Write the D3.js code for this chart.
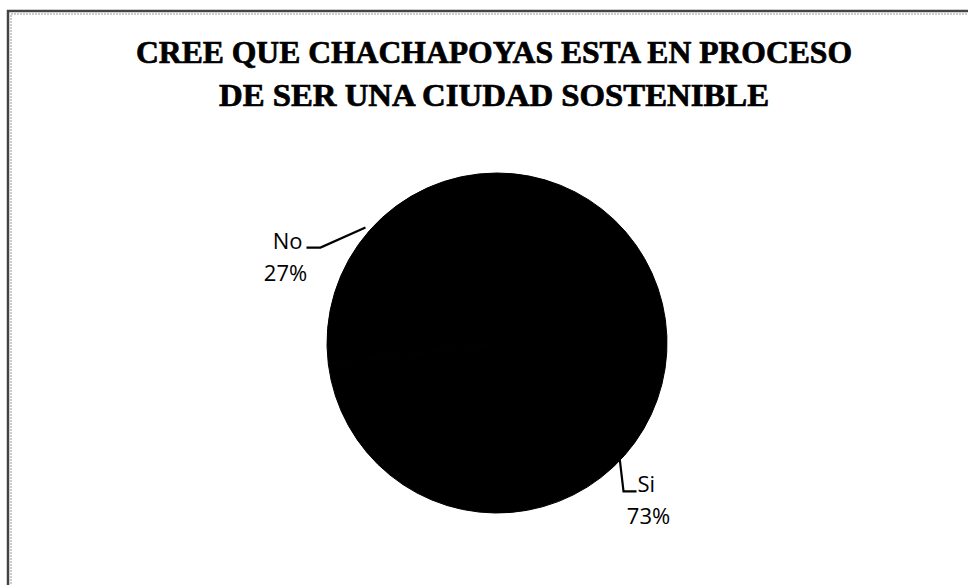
<!DOCTYPE html>
<meta charset="utf-8">
<head>
  <script src="https://d3js.org/d3.v7.min.js"></script>
  <style>
    body { margin: 0; background: #fff; }
    .title { font-family: "Liberation Serif", "DejaVu Serif", serif; font-weight: bold; font-size: 31px; fill: #000; stroke: #000; stroke-width: 0.7; }
    .lbl { font-family: "Open Sans", "Noto Sans", sans-serif; font-size: 22px; fill: #000; }
    .leader { stroke: #000; stroke-width: 2.2; fill: none; }
  </style>
</head>
<body>
<div id="chart"></div>
<script>
  // data
  var categories = ["Si", "No"];
  var values = [73, 27];
  var titleLines = ["CREE QUE CHACHAPOYAS ESTA EN PROCESO", "DE SER UNA CIUDAD SOSTENIBLE"];

  var width = 968, height = 585;
  var cx = 497, cy = 343, radius = 170;

  var svg = d3.select("#chart").append("svg")
          .attr("width", width)
          .attr("height", height);

  // scanned frame
  svg.append("path")
          .attr("d", "M8,590 L8,11 L975,11")
          .attr("stroke", "#444").attr("stroke-width", 2.5).attr("fill", "none");
  svg.append("path")
          .attr("d", "M11,590 L11,14 L975,14")
          .attr("stroke", "#999").attr("stroke-width", 1).attr("fill", "none")
          .attr("stroke-dasharray", "2,1");

  svg.selectAll("text.title").data(titleLines).enter()
          .append("text")
          .attr("class", "title")
          .attr("x", 494)
          .attr("y", function(d, i){ return 63 + i * 43; })
          .attr("text-anchor", "middle")
          .attr("textLength", function(d, i){ return i == 0 ? 716 : 550; })
          .attr("lengthAdjust", "spacingAndGlyphs")
          .text(function(d){ return d; });

  var pie = d3.pie().sort(null).value(function(d){ return d; });
  var arcs = pie(values);
  var arc = d3.arc().innerRadius(0).outerRadius(radius);

  var g = svg.append("g").attr("transform", "translate(" + cx + "," + cy + ")");

  g.selectAll("path.slice").data(arcs).enter()
          .append("path")
          .attr("class", "slice")
          .attr("d", arc)
          .attr("fill", "#000")
          .attr("stroke", "#000")
          .attr("stroke-width", 1);

  // point on the rim at the middle of each slice
  var rim = function(d){
    var a = (d.startAngle + d.endAngle) / 2;
    return [Math.sin(a) * radius, -Math.cos(a) * radius];
  };

  arcs.forEach(function(d, i){
    var p = rim(d);
    var pct = Math.round(d.value / d3.sum(values) * 100) + "%";
    var lbl = g.append("g");
    if (p[0] > 0) {
      // label below-right, leader drops down then goes right
      p = [p[0] - 5, p[1] + 2];
      lbl.append("path").attr("class", "leader")
              .attr("d", "M" + p[0] + "," + p[1] + " L" + (p[0] + 4) + "," + (p[1] + 34) + " L" + (p[0] + 17) + "," + (p[1] + 34));
      lbl.append("text").attr("class", "lbl")
              .attr("x", p[0] + 18).attr("y", p[1] + 35)
              .text(categories[i]);
      lbl.append("text").attr("class", "lbl")
              .attr("x", p[0] + 29).attr("y", p[1] + 67)
              .attr("text-anchor", "middle")
              .text(pct);
    } else {
      // label up-left, leader goes diagonal then flat left
      p = [p[0] - 4, p[1] - 3];
      lbl.append("path").attr("class", "leader")
              .attr("d", "M" + p[0] + "," + p[1] + " L" + (p[0] - 45) + "," + (p[1] + 20) + " L" + (p[0] - 59) + "," + (p[1] + 20));
      lbl.append("text").attr("class", "lbl")
              .attr("x", p[0] - 63).attr("y", p[1] + 21)
              .attr("text-anchor", "end")
              .text(categories[i]);
      lbl.append("text").attr("class", "lbl")
              .attr("x", p[0] - 80).attr("y", p[1] + 53)
              .attr("text-anchor", "middle")
              .text(pct);
    }
  });
</script>
</body>
